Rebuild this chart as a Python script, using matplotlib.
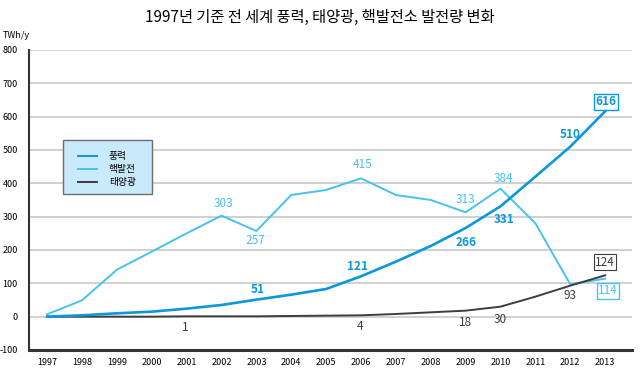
import matplotlib
matplotlib.use('Agg')
import matplotlib.pyplot as plt
import matplotlib.patches as mpatches

plt.rcParams['font.family'] = ['Noto Sans CJK KR', 'DejaVu Sans']

years = list(range(1997, 2014))
wind = [0, 4, 10, 15, 24, 35, 51, 66, 83, 121, 165, 212, 266, 331, 420, 510, 616]
nuclear = [7, 49, 141, 195, 250, 303, 257, 365, 380, 415, 365, 350, 313, 384, 280, 97, 114]
solar = [0, 0, 0, 0, 1, 1, 1, 2, 3, 4, 8, 13, 18, 30, 60, 93, 124]

series_names = ['풍력', '핵발전', '태양광']
c_wind = '#0a97dc'
c_nuc = '#45c2f0'
c_solar = '#3d3d3d'

# labels: (year, value, text x, text y)
wind_labels = [(2003, 51, 2003.05, 80), (2006, 121, 2005.9, 150), (2009, 266, 2009.0, 222),
               (2010, 331, 2010.1, 292), (2012, 510, 2012.0, 545)]
nuc_labels = [(2002, 303, 2002.05, 340), (2003, 257, 2002.98, 228), (2006, 415, 2006.05, 455),
              (2009, 313, 2009.0, 350), (2010, 384, 2010.07, 415)]
solar_labels = [(2001, 1, 2000.95, -33), (2006, 4, 2005.98, -30), (2009, 18, 2009.0, -18),
                (2010, 30, 2009.98, -8), (2012, 93, 2011.98, 62)]

fig = plt.figure(figsize=(6.4, 3.73), dpi=100)
ax = fig.add_axes([0.0453, 0.0617, 0.9422, 0.8043])
ax.set_xlim(1996.48, 2013.77)
ax.set_ylim(-100, 800)

for v in range(0, 900, 100):
    ax.axhline(v, color='#c8c8c8', lw=1.2, zorder=0)

ax.plot(years, nuclear, color=c_nuc, lw=1.4, label=series_names[1], zorder=2)
ax.plot(years, solar, color=c_solar, lw=1.4, label=series_names[2], zorder=3)
ax.plot(years, wind, color=c_wind, lw=1.9, label=series_names[0], zorder=4)

for _, v, tx, ty in wind_labels:
    ax.text(tx, ty, str(v), color=c_wind, fontsize=8.5, fontweight='bold', ha='center', va='center')
for _, v, tx, ty in nuc_labels:
    ax.text(tx, ty, str(v), color=c_nuc, fontsize=8.5, fontweight='medium', ha='center', va='center')
for _, v, tx, ty in solar_labels:
    ax.text(tx, ty, str(v), color=c_solar, fontsize=8.5, ha='center', va='center')

# boxed end values
ax.text(2013.03, 645, str(wind[-1]), color=c_wind, fontsize=8.5, fontweight='bold', ha='center', va='center',
        bbox=dict(boxstyle='square,pad=0.12', facecolor='white', edgecolor=c_wind, lw=1))
ax.text(2013.08, 78, str(nuclear[-1]), color=c_nuc, fontsize=8.5, fontweight='medium', ha='center', va='center',
        bbox=dict(boxstyle='square,pad=0.12', facecolor='white', edgecolor=c_nuc, lw=1))
ax.text(2013.0, 163, str(solar[-1]), color=c_solar, fontsize=8.5, ha='center', va='center',
        bbox=dict(boxstyle='square,pad=0.12', facecolor='white', edgecolor=c_solar, lw=0.8))

ax.set_xticks(years)
ax.set_xticklabels([str(y) for y in years], fontsize=6.5)
ax.set_yticks(range(-100, 900, 100))
ax.set_yticklabels([str(v) for v in range(-100, 900, 100)], fontsize=6.5)
ax.tick_params(length=0, pad=6)
ax.tick_params(axis='y', pad=8)

for s in ['top', 'right']:
    ax.spines[s].set_visible(False)
ax.spines['left'].set_color('#333333')
ax.spines['left'].set_linewidth(1.5)
ax.spines['bottom'].set_color('#333333')
ax.spines['bottom'].set_linewidth(2.2)

# legend box
box = mpatches.Rectangle((0.0564, 0.52), 0.1476, 0.18, transform=ax.transAxes,
                         facecolor='#c9eafa', edgecolor='#6e6e6e', lw=1, zorder=5)
ax.add_patch(box)
handles, labels = ax.get_legend_handles_labels()
order = [2, 0, 1]
leg = ax.legend([handles[i] for i in order], [labels[i] for i in order],
                loc='upper left', bbox_to_anchor=(0.081, 0.662), fontsize=7,
                frameon=False, handlelength=2.0, borderpad=0,
                labelspacing=0.3, handletextpad=1.2, borderaxespad=0)
leg.set_zorder(6)
for h in leg.get_lines():
    h.set_linewidth(1.4)

fig.text(0.5, 0.952, '1997년 기준 전 세계 풍력, 태양광, 핵발전소 발전량 변화',
         ha='center', va='center', fontsize=11)
fig.text(0.005, 0.905, 'TWh/y', ha='left', va='center', fontsize=6.5)

fig.savefig('out.png', dpi=100)
